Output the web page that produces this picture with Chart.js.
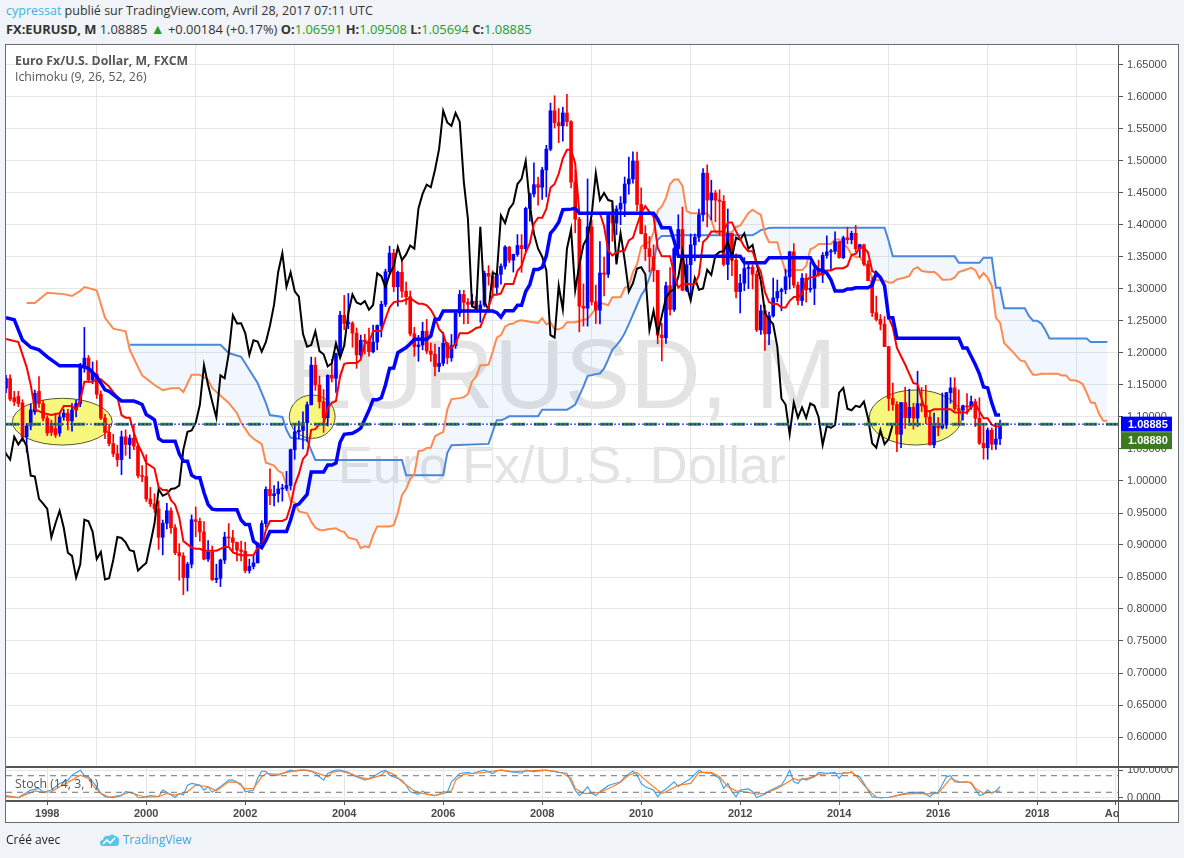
<!DOCTYPE html>
<html lang="fr">
<head>
<meta charset="UTF-8">
<title>FX:EURUSD, M - Ichimoku</title>
<script src="https://cdn.jsdelivr.net/npm/chart.js@4.4.1/dist/chart.umd.min.js"></script>
<style>
  html, body { margin: 0; padding: 0; }
  body { width: 1184px; height: 858px; background: #f0f3f7; font-family: "Open Sans", sans-serif; position: relative; overflow: hidden; }
  .hdr { position: absolute; left: 6px; font-size: 12.5px; line-height: 16px; color: #333; white-space: nowrap; }
  .hdr1 { top: 3px; }
  .hdr2 { top: 21px; font-size: 12.9px; }
  .tri { font-size: 14px; }
  .user { color: #3bb3e4; }
  .g { color: #1e9e28; }
  #frame { position: absolute; left: 5px; top: 44px; width: 1172px; height: 777px; border: 1px solid #6b6b6b; background: #fff; overflow: hidden; }
  .wm { position: absolute; left: 0; width: 1112px; text-align: center; color: #e3e3e3; font-family: "Liberation Sans", sans-serif; white-space: nowrap; }
  #wm1 { top: 280px; font-size: 98px; line-height: 98px; }
  #wm2 { top: 394px; font-size: 52px; line-height: 52px; }
  canvas { position: absolute; left: 0; }
  #main { top: 0; }
  #stoch { top: 722px; }
  .sep { position: absolute; left: 0; top: 721px; width: 1172px; height: 2px; background: #555; }
  .leg { position: absolute; left: 9px; font-size: 12.3px; line-height: 16px; color: #555; white-space: nowrap; }
  #leg1 { top: 8px; font-weight: bold; }
  #leg2 { top: 24px; }
  #leg3 { top: 731px; }
  .foot { position: absolute; top: 832px; font-size: 12px; line-height: 16px; white-space: nowrap; }
</style>
</head>
<body>
  <div class="hdr hdr1"><span class="user">cypressat</span> publié sur TradingView.com, Avril 28, 2017 07:11 UTC</div>
  <div class="hdr hdr2"><b>FX:EURUSD, M</b> 1.08885 <span class="g tri">&#9650;</span> +0.00184 (+0.17%) <b>O:</b><span class="g">1.06591</span> <b>H:</b><span class="g">1.09508</span> <b>L:</b><span class="g">1.05694</span> <b>C:</b><span class="g">1.08885</span></div>

  <div id="frame">
    <div class="wm" id="wm1">EURUSD, M</div>
    <div class="wm" id="wm2">Euro Fx/U.S. Dollar</div>
    <canvas id="main" width="1172" height="722"></canvas>
    <canvas id="stoch" width="1172" height="55"></canvas>
    <div class="sep"></div>
    <div class="leg" id="leg1">Euro Fx/U.S. Dollar, M, FXCM</div>
    <div class="leg" id="leg2">Ichimoku (9, 26, 52, 26)</div>
    <div class="leg" id="leg3">Stoch (14, 3, 1)</div>
  </div>

  <div class="foot" style="left:6px;color:#222;">Créé avec</div>
  <svg class="foot" style="left:100px;top:833px;" width="20" height="14" viewBox="0 0 20 14">
    <path d="M3 13 Q0 13 0 10 Q0 7 3 7 Q4 2 9 3 Q12 0 15 3 Q20 4 19 9 Q19 13 16 13 Z" fill="#5cc3ec"/>
    <path d="M3 11 L7 7 L10 10 L15 5" stroke="#fff" stroke-width="1.6" fill="none"/>
  </svg>
  <div class="foot" style="left:123px;color:#3aa8dc;">TradingView</div>

<script>
// monthly candles, FX:EURUSD (FXCM), months counted from Jan 1997 (0)
const firstCandleMonth = 2; // Mar 1997

const opens = [
  1.145,1.160,1.130,1.132,1.122,1.069,1.086,1.108,1.140,1.121,
  1.098,1.090,1.082,1.075,1.100,1.106,1.094,1.111,1.121,1.179,1.192,1.158,
  1.167,1.1355,1.0985,1.076,1.0585,1.0425,1.0335,1.069,1.057,1.067,1.0545,1.0085,
  1.007,0.972,0.9645,0.9565,0.912,0.934,0.9535,0.927,0.888,0.883,0.849,0.870,
  0.9395,0.937,0.9205,0.878,0.889,0.846,0.848,0.8765,0.9125,0.911,0.904,0.892,
  0.890,0.860,0.8665,0.872,0.902,0.9335,0.987,0.977,0.980,0.9875,0.9885,0.993,
  1.049,1.077,1.079,1.091,1.119,1.181,1.150,1.124,1.099,1.165,1.1605,1.199,
  1.259,1.246,1.2465,1.231,1.197,1.220,1.218,1.202,1.217,1.243,1.276,1.327,
  1.356,1.3035,1.326,1.2965,1.288,1.230,1.210,1.2125,1.234,1.203,1.198,1.179,
  1.184,1.215,1.1925,1.2115,1.2625,1.2915,1.279,1.276,1.281,1.2675,1.275,1.3245,
  1.320,1.3025,1.323,1.3355,1.3655,1.345,1.354,1.368,1.363,1.426,1.4485,1.463,
  1.459,1.486,1.5185,1.5785,1.560,1.555,1.575,1.5615,1.467,1.409,1.273,1.270,
  1.397,1.280,1.267,1.325,1.323,1.415,1.403,1.425,1.434,1.464,1.472,1.500,
  1.432,1.3865,1.363,1.3505,1.329,1.228,1.224,1.305,1.268,1.363,1.393,1.298,
  1.338,1.369,1.381,1.416,1.481,1.439,1.450,1.439,1.437,1.3385,1.387,1.345,
  1.296,1.309,1.332,1.334,1.323,1.236,1.266,1.230,1.258,1.286,1.296,1.299,
  1.319,1.358,1.306,1.282,1.317,1.299,1.301,1.330,1.322,1.3525,1.358,1.359,
  1.374,1.349,1.380,1.377,1.387,1.363,1.369,1.339,1.313,1.263,1.2525,1.245,
  1.210,1.129,1.1195,1.073,1.1225,1.099,1.115,1.0985,1.121,1.1175,1.100,1.0565,
  1.086,1.083,1.0875,1.138,1.1455,1.113,1.1105,1.1175,1.1155,1.124,1.098,1.059,
  1.052,1.0795,1.0575,1.06591
];
const highs = [
  1.165,1.166,1.140,1.140,1.127,1.090,1.120,1.142,1.163,1.126,
  1.102,1.095,1.106,1.106,1.112,1.112,1.121,1.126,1.184,1.240,1.196,1.186,
  1.188,1.141,1.104,1.089,1.073,1.056,1.078,1.080,1.072,1.088,1.056,1.024,
  1.041,0.990,0.980,0.969,0.939,0.965,0.958,0.932,0.902,0.888,0.873,0.947,
  0.9595,0.942,0.9365,0.907,0.8985,0.870,0.878,0.920,0.9335,0.923,0.9045,0.906,
  0.9045,0.878,0.8835,0.904,0.938,0.991,1.019,0.993,0.999,0.995,1.015,1.050,
  1.088,1.0935,1.108,1.1235,1.1935,1.193,1.164,1.143,1.166,1.190,1.200,1.265,
  1.290,1.293,1.249,1.239,1.228,1.229,1.239,1.2435,1.244,1.281,1.331,1.367,
  1.362,1.328,1.348,1.311,1.297,1.240,1.2275,1.248,1.2525,1.216,1.214,1.209,
  1.2325,1.2165,1.229,1.266,1.298,1.298,1.285,1.2915,1.288,1.2815,1.328,1.3365,
  1.3285,1.3275,1.3395,1.368,1.3665,1.3545,1.385,1.385,1.428,1.450,1.497,1.475,
  1.490,1.5245,1.5905,1.602,1.582,1.584,1.604,1.563,1.4865,1.412,1.308,1.472,
  1.408,1.306,1.374,1.350,1.416,1.434,1.430,1.4445,1.475,1.506,1.5145,1.514,
  1.458,1.399,1.382,1.369,1.329,1.2465,1.311,1.3335,1.365,1.416,1.428,1.350,
  1.386,1.386,1.425,1.488,1.494,1.470,1.454,1.455,1.446,1.425,1.387,1.355,
  1.323,1.349,1.3385,1.338,1.3285,1.275,1.275,1.264,1.317,1.314,1.3015,1.331,
  1.359,1.371,1.311,1.324,1.324,1.3415,1.3345,1.345,1.357,1.383,1.362,1.3895,
  1.374,1.3825,1.3965,1.3905,1.3995,1.370,1.370,1.3445,1.318,1.289,1.260,1.257,
  1.210,1.153,1.124,1.123,1.1465,1.1435,1.1215,1.1715,1.146,1.1495,1.1095,1.106,
  1.099,1.1375,1.1385,1.1615,1.1615,1.1425,1.1185,1.1365,1.1325,1.128,1.130,1.0875,
  1.083,1.083,1.0905,1.09508
];
const lows = [
  1.138,1.125,1.118,1.116,1.062,1.045,1.080,1.104,1.115,1.094,
  1.071,1.071,1.068,1.070,1.095,1.080,1.078,1.100,1.116,1.170,1.154,1.152,
  1.129,1.096,1.066,1.055,1.038,1.023,1.010,1.040,1.035,1.049,1.005,0.999,
  0.968,0.960,0.951,0.893,0.8845,0.925,0.918,0.885,0.845,0.8225,0.828,0.864,
  0.913,0.906,0.8765,0.8745,0.8445,0.841,0.835,0.871,0.8985,0.8905,0.875,0.875,
  0.8565,0.856,0.8625,0.872,0.900,0.928,0.963,0.961,0.967,0.9685,0.985,0.986,
  1.034,1.066,1.050,1.062,1.119,1.1415,1.114,1.076,1.086,1.155,1.1385,1.193,
  1.2365,1.238,1.209,1.176,1.1905,1.1985,1.195,1.200,1.205,1.225,1.2725,1.3225,
  1.296,1.273,1.287,1.276,1.2265,1.195,1.187,1.205,1.199,1.187,1.164,1.171,
  1.180,1.183,1.187,1.207,1.257,1.2455,1.246,1.2725,1.264,1.248,1.272,1.306,
  1.2865,1.293,1.3075,1.331,1.341,1.3265,1.351,1.326,1.358,1.406,1.444,1.431,
  1.440,1.444,1.516,1.5515,1.5285,1.531,1.5545,1.458,1.388,1.233,1.242,1.242,
  1.275,1.246,1.2455,1.289,1.318,1.3745,1.385,1.4005,1.413,1.448,1.4655,1.422,
  1.386,1.3445,1.3265,1.3115,1.2145,1.1875,1.215,1.259,1.265,1.352,1.297,1.296,
  1.286,1.344,1.374,1.406,1.397,1.408,1.405,1.3835,1.336,1.3145,1.321,1.286,
  1.2625,1.2975,1.3005,1.300,1.2335,1.229,1.204,1.213,1.256,1.280,1.266,1.2925,
  1.300,1.302,1.275,1.2745,1.2795,1.295,1.2755,1.320,1.310,1.348,1.3295,1.355,
  1.348,1.3475,1.3705,1.3705,1.3585,1.350,1.3365,1.313,1.257,1.250,1.236,1.210,
  1.110,1.1105,1.046,1.052,1.082,1.0865,1.081,1.085,1.1085,1.0895,1.056,1.052,
  1.071,1.081,1.082,1.1215,1.110,1.091,1.095,1.1045,1.112,1.085,1.057,1.034,
  1.034,1.049,1.0495,1.05694
];
const closes = [
  1.160,1.128,1.124,1.121,1.069,1.086,1.111,1.137,1.121,1.098,
  1.075,1.076,1.072,1.100,1.106,1.094,1.111,1.121,1.179,1.192,1.158,1.168,
  1.1355,1.0985,1.076,1.0585,1.0425,1.0335,1.069,1.057,1.067,1.0545,1.0085,1.007,
  0.972,0.9645,0.9565,0.912,0.934,0.9535,0.927,0.888,0.883,0.849,0.870,0.9395,
  0.937,0.9205,0.878,0.889,0.846,0.848,0.8765,0.9125,0.911,0.904,0.892,0.890,
  0.860,0.8665,0.872,0.902,0.9335,0.987,0.977,0.980,0.9875,0.9885,0.993,1.049,
  1.077,1.079,1.091,1.119,1.181,1.150,1.124,1.099,1.165,1.1605,1.199,1.259,
  1.246,1.2465,1.231,1.197,1.220,1.218,1.202,1.217,1.243,1.276,1.327,1.356,
  1.3035,1.326,1.2965,1.288,1.230,1.210,1.2125,1.234,1.203,1.198,1.179,1.184,
  1.215,1.1925,1.2115,1.2625,1.2915,1.279,1.276,1.281,1.2675,1.275,1.3245,1.320,
  1.3025,1.323,1.3355,1.3655,1.345,1.354,1.368,1.363,1.426,1.4485,1.463,1.459,
  1.486,1.5185,1.5785,1.560,1.555,1.575,1.5615,1.467,1.409,1.273,1.270,1.397,
  1.280,1.267,1.325,1.323,1.415,1.403,1.425,1.434,1.464,1.472,1.500,1.432,
  1.3865,1.363,1.3505,1.329,1.228,1.224,1.305,1.268,1.363,1.393,1.298,1.338,
  1.369,1.381,1.416,1.481,1.439,1.450,1.439,1.437,1.3385,1.387,1.345,1.296,
  1.309,1.332,1.334,1.323,1.236,1.266,1.230,1.258,1.286,1.296,1.299,1.319,
  1.358,1.306,1.282,1.317,1.299,1.301,1.330,1.322,1.3525,1.358,1.359,1.374,
  1.349,1.380,1.377,1.387,1.363,1.369,1.339,1.313,1.263,1.2525,1.245,1.210,
  1.129,1.1195,1.073,1.1225,1.099,1.115,1.0985,1.121,1.1175,1.100,1.0565,1.086,
  1.083,1.0875,1.138,1.1455,1.113,1.1105,1.1175,1.1155,1.124,1.098,1.059,1.052,
  1.0795,1.0575,1.0655,1.08885
];

// Ichimoku (9, 26, 52, 26) lines: [month, price]
const tenkanSen = [
  [2,1.222],[5,1.217],[7,1.178],[8,1.150],[9,1.112],[11,1.106],[13,1.103],[15,1.106],[16,1.117],[18,1.117],
  [19,1.111],[20,1.126],[21,1.155],[23,1.155],[24,1.159],[25,1.159],[26,1.153],[27,1.1475],[28,1.139],[29,1.1315],
  [30,1.103],[31,1.099],[32,1.099],[33,1.0755],[34,1.057],[35,1.044],[36,1.028],[37,1.024],[38,1.0195],[39,0.9905],
  [40,0.986],[41,0.986],[42,0.970],[43,0.963],[44,0.943],[45,0.906],[46,0.901],[47,0.896],[48,0.894],[49,0.894],
  [50,0.891],[53,0.891],[54,0.894],[55,0.897],[56,0.897],[57,0.8885],[58,0.886],[59,0.884],[62,0.884],[63,0.895],
  [64,0.897],[65,0.9235],[66,0.9375],[69,0.9375],[70,0.941],[71,0.961],[72,0.994],[73,1.011],[74,1.0345],[75,1.042],
  [76,1.080],[77,1.081],[78,1.089],[79,1.090],[80,1.114],[81,1.122],[82,1.125],[83,1.1635],[84,1.183],[85,1.1845],
  [87,1.1845],[88,1.1895],[89,1.216],[90,1.216],[91,1.2345],[93,1.2345],[94,1.2535],[95,1.2715],[96,1.279],[97,1.281],
  [98,1.281],[99,1.2835],[100,1.286],[101,1.281],[102,1.277],[103,1.277],[104,1.2745],[105,1.2675],[106,1.256],[107,1.2375],
  [108,1.2305],[109,1.208],[110,1.208],[111,1.215],[112,1.231],[114,1.231],[115,1.2345],[116,1.239],[117,1.2405],[118,1.2575],
  [119,1.272],[120,1.291],[121,1.291],[122,1.293],[123,1.308],[125,1.308],[126,1.3285],[127,1.336],[128,1.357],[129,1.3715],
  [130,1.402],[131,1.4115],[132,1.4115],[133,1.425],[134,1.458],[135,1.464],[136,1.48],[137,1.504],[138,1.5175],[139,1.5175],
  [140,1.496],[141,1.4185],[146,1.4185],[147,1.398],[148,1.36],[149,1.3525],[150,1.357],[151,1.359],[152,1.36],[153,1.376],
  [154,1.38],[155,1.40],[156,1.419],[157,1.4295],[158,1.4205],[159,1.413],[160,1.3645],[161,1.351],[163,1.351],[164,1.323],
  [165,1.302],[166,1.308],[169,1.308],[170,1.3215],[171,1.3735],[172,1.3795],[173,1.39],[176,1.39],[177,1.404],[178,1.404],
  [179,1.39],[180,1.378],[181,1.366],[182,1.359],[183,1.359],[184,1.34],[185,1.327],[186,1.2955],[187,1.2795],[188,1.2765],
  [189,1.2765],[190,1.271],[191,1.271],[192,1.2815],[193,1.2875],[194,1.2875],[195,1.292],[196,1.3135],[197,1.3185],[198,1.3185],
  [199,1.323],[200,1.323],[201,1.329],[202,1.329],[203,1.332],[204,1.3325],[205,1.3325],[206,1.336],[207,1.353],[208,1.355],
  [209,1.3645],[210,1.3645],[211,1.357],[212,1.328],[213,1.325],[214,1.318],[215,1.305],[216,1.255],[217,1.24],[218,1.208],
  [219,1.195],[220,1.182],[221,1.1675],[222,1.153],[223,1.1515],[224,1.128],[225,1.109],[226,1.109],[227,1.112],[231,1.112],
  [232,1.107],[235,1.107],[236,1.116],[237,1.121],[238,1.109],[239,1.098],[240,1.098],[241,1.088],[242,1.085],[243,1.085]
];
const kijunSen = [
  [2,1.255],[4,1.252],[6,1.220],[8,1.209],[10,1.205],[12,1.194],[15,1.180],[20,1.180],[22,1.176],[24,1.163],
  [26,1.1425],[27,1.140],[30,1.125],[33,1.125],[34,1.1225],[35,1.1195],[36,1.104],[37,1.100],[38,1.0955],[39,1.0665],
  [40,1.062],[43,1.062],[44,1.0425],[45,1.031],[46,1.031],[47,1.009],[48,1.005],[49,1.005],[50,0.982],[51,0.963],
  [52,0.956],[53,0.955],[58,0.955],[59,0.939],[60,0.932],[61,0.932],[62,0.906],[63,0.901],[64,0.896],[65,0.907],
  [66,0.921],[70,0.921],[71,0.939],[72,0.9615],[73,0.964],[74,0.9715],[75,0.979],[76,1.014],[79,1.014],[80,1.025],
  [81,1.025],[82,1.028],[83,1.0605],[84,1.073],[86,1.0745],[87,1.078],[88,1.0825],[89,1.0965],[90,1.1105],[91,1.127],
  [92,1.127],[93,1.130],[94,1.150],[95,1.176],[96,1.1765],[97,1.2005],[99,1.2085],[100,1.2145],[101,1.2215],[104,1.2215],
  [105,1.2265],[106,1.2528],[107,1.2528],[108,1.2655],[120,1.2655],[121,1.263],[122,1.256],[123,1.266],[125,1.266],[126,1.2745],
  [127,1.2745],[128,1.296],[129,1.307],[130,1.3305],[131,1.3305],[132,1.334],[133,1.352],[134,1.387],[135,1.3945],[136,1.4045],
  [137,1.4238],[139,1.4248],[140,1.426],[141,1.4185],[159,1.4185],[160,1.409],[161,1.3958],[163,1.3958],[164,1.375],[165,1.351],
  [180,1.351],[181,1.341],[186,1.341],[187,1.349],[197,1.349],[198,1.337],[199,1.3295],[200,1.3295],[201,1.325],[202,1.3145],
  [203,1.297],[205,1.297],[206,1.300],[207,1.300],[208,1.302],[211,1.302],[212,1.306],[213,1.325],[214,1.318],[215,1.305],
  [216,1.255],[217,1.255],[218,1.223],[233,1.223],[234,1.208],[235,1.208],[236,1.195],[237,1.182],[238,1.1675],[239,1.147],
  [240,1.1455],[241,1.122],[242,1.103],[243,1.103]
];
const senkouSpanA = [
  [7,1.278],[9,1.278],[12,1.294],[16,1.292],[18,1.289],[20,1.297],[21,1.303],[24,1.298],[26,1.255],[28,1.238],
  [31,1.234],[32,1.205],[34,1.178],[35,1.165],[38,1.150],[40,1.142],[42,1.145],[44,1.145],[45,1.139],[47,1.166],
  [49,1.166],[51,1.158],[52,1.145],[56,1.122],[58,1.106],[59,1.091],[61,1.072],[62,1.066],[63,1.062],[64,1.0575],
  [65,1.0285],[67,1.024],[68,1.016],[69,1.0125],[70,0.993],[71,0.9685],[72,0.966],[73,0.9525],[75,0.9495],[76,0.9365],
  [77,0.927],[78,0.9235],[79,0.923],[80,0.9245],[82,0.926],[83,0.922],[84,0.9205],[85,0.9115],[87,0.908],[88,0.895],
  [89,0.898],[90,0.8965],[91,0.915],[92,0.929],[95,0.929],[96,0.931],[97,0.950],[98,0.978],[99,0.9875],[100,1.003],
  [101,1.0105],[102,1.047],[103,1.0475],[104,1.0515],[105,1.052],[106,1.0695],[107,1.0735],[108,1.0765],[109,1.112],[110,1.128],
  [112,1.1295],[113,1.131],[114,1.136],[115,1.156],[116,1.163],[117,1.181],[118,1.181],[119,1.182],[120,1.202],[121,1.224],
  [122,1.228],[123,1.241],[124,1.245],[125,1.246],[126,1.250],[127,1.251],[129,1.249],[130,1.248],[131,1.247],[132,1.2544],
  [133,1.245],[134,1.248],[135,1.237],[136,1.237],[137,1.240],[138,1.248],[140,1.248],[141,1.250],[142,1.252],[143,1.253],
  [144,1.2615],[145,1.269],[146,1.278],[147,1.277],[148,1.2745],[149,1.287],[151,1.287],[152,1.3015],[153,1.305],[154,1.3265],
  [155,1.339],[156,1.366],[157,1.371],[158,1.373],[159,1.3885],[160,1.4225],[161,1.429],[162,1.442],[163,1.464],[164,1.471],
  [165,1.471],[166,1.461],[167,1.422],[168,1.4185],[172,1.4185],[173,1.408],[174,1.389],[175,1.3855],[176,1.388],[178,1.389],
  [179,1.397],[180,1.399],[181,1.409],[182,1.419],[183,1.424],[184,1.4195],[185,1.416],[186,1.387],[187,1.373],[189,1.373],
  [190,1.349],[191,1.3265],[192,1.3295],[195,1.3295],[196,1.336],[197,1.362],[198,1.365],[199,1.3705],[202,1.3705],[203,1.3775],
  [204,1.3775],[205,1.3705],[206,1.3645],[207,1.3535],[208,1.350],[209,1.350],[210,1.3405],[211,1.334],[212,1.318],[213,1.314],
  [215,1.313],[216,1.310],[217,1.310],[218,1.315],[220,1.318],[221,1.3205],[222,1.331],[223,1.334],[224,1.328],[226,1.326],
  [227,1.327],[228,1.322],[229,1.3145],[231,1.315],[232,1.318],[233,1.3265],[234,1.3285],[236,1.333],[237,1.3295],[238,1.317],
  [239,1.325],[240,1.318],[241,1.305],[242,1.255],[243,1.2475],[244,1.2155],[245,1.209],[246,1.2025],[247,1.195],[248,1.188],
  [249,1.187],[250,1.1755],[251,1.166],[252,1.166],[253,1.1675],[257,1.1675],[258,1.165],[259,1.165],[260,1.1575],[261,1.1575],
  [262,1.1555],[263,1.1515],[264,1.138],[265,1.1225],[266,1.122],[267,1.105],[268,1.094],[269,1.094]
];
const senkouSpanB = [
  [32,1.213],[54,1.213],[56,1.200],[59,1.194],[63,1.153],[65,1.122],[66,1.103],[69,1.100],[70,1.080],[71,1.068],
  [75,1.064],[76,1.048],[77,1.033],[98,1.033],[99,1.009],[108,1.009],[109,1.044],[110,1.056],[119,1.058],[120,1.077],
  [121,1.095],[122,1.095],[123,1.0975],[124,1.101],[131,1.101],[132,1.1115],[138,1.1115],[139,1.115],[140,1.1195],[141,1.1335],
  [142,1.1475],[143,1.164],[145,1.167],[146,1.168],[147,1.176],[148,1.19],[149,1.205],[150,1.212],[151,1.22],[152,1.231],
  [153,1.245],[154,1.26],[155,1.275],[156,1.29],[157,1.30],[158,1.318],[159,1.34],[160,1.377],[161,1.383],[163,1.383],
  [164,1.384],[183,1.384],[184,1.3875],[185,1.392],[186,1.3935],[187,1.3955],[188,1.3958],[215,1.3958],[216,1.375],[217,1.351],
  [232,1.351],[233,1.341],[238,1.341],[239,1.349],[241,1.349],[242,1.302],[243,1.302],[244,1.270],[249,1.270],[250,1.258],
  [251,1.2505],[252,1.2505],[253,1.246],[254,1.2355],[255,1.2228],[264,1.2228],[265,1.217],[269,1.217]
];
const chikouShift = 26;

// Stoch (14, 3, 1): [month, value]
const stochK = [
  [2,4],[5,1],[8,28],[10,34],[11,20],[13,28],[15,52],[17,64],[18,82],[20,100],[21,80],[22,76],[23,58],[24,40],[25,16],
  [26,4],[28,1],[30,8],[31,22],[33,16],[34,2],[35,1],[37,8],[39,4],[40,28],[41,20],[43,1],[44,16],[45,10],[46,46],
  [47,52],[49,46],[50,28],[51,40],[52,20],[54,40],[56,64],[57,64],[59,49],[60,22],[62,28],[63,70],[64,97],[65,95],[66,82],
  [68,82],[69,88],[71,100],[72,97],[74,100],[76,97],[77,88],[79,64],[80,88],[81,95],[82,100],[83,100],[85,92],[86,82],[88,70],
  [89,64],[91,76],[93,95],[94,100],[95,82],[97,70],[98,64],[99,46],[100,22],[102,13],[103,25],[104,13],[106,8],[107,13],[108,22],
  [109,20],[110,58],[112,88],[114,92],[115,88],[117,97],[118,100],[120,88],[121,97],[122,100],[124,95],[127,89],[128,100],[130,95],[131,97],
  [133,100],[135,95],[136,92],[138,89],[139,58],[140,28],[141,8],[142,22],[143,40],[144,16],[145,8],[146,22],[148,44],[149,49],[151,58],
  [152,76],[154,97],[155,82],[156,52],[157,40],[159,28],[160,4],[161,22],[162,32],[164,58],[165,40],[166,52],[168,70],[170,100],[171,92],
  [172,89],[173,89],[175,70],[176,34],[177,52],[178,22],[179,4],[180,28],[182,32],[183,22],[184,1],[186,13],[187,25],[188,32],[190,46],
  [191,70],[192,100],[193,58],[194,52],[195,70],[196,64],[198,76],[199,92],[201,89],[203,92],[204,70],[205,92],[206,89],[207,95],[208,80],
  [209,76],[211,28],[212,4],[214,0],[216,2],[217,4],[219,13],[220,16],[222,20],[224,20],[225,13],[226,4],[227,16],[228,20],[230,76],
  [231,80],[232,58],[233,56],[235,58],[236,52],[238,8],[239,13],[240,28],[241,16],[242,25],[243,40]
];
const stochD = [
  [2,8],[5,1],[9,25],[11,20],[13,22],[15,40],[18,64],[20,82],[22,70],[23,46],[25,16],[27,2],[30,10],[32,20],[34,10],
  [36,2],[39,4],[41,16],[43,10],[46,22],[48,46],[51,40],[53,25],[56,58],[58,56],[60,32],[62,34],[64,76],[65,88],[68,85],
  [70,92],[73,100],[75,100],[77,92],[80,76],[81,92],[83,97],[86,85],[88,73],[90,68],[93,82],[94,97],[96,85],[98,58],[101,25],
  [103,16],[106,8],[108,16],[110,25],[111,64],[113,85],[115,88],[118,92],[120,97],[122,100],[125,95],[128,97],[132,100],[135,97],[137,89],
  [139,70],[140,34],[142,16],[144,16],[146,20],[149,40],[151,56],[153,82],[155,92],[157,64],[159,40],[161,16],[162,22],[165,46],[168,52],
  [170,92],[173,92],[175,76],[177,40],[179,25],[181,22],[184,13],[186,16],[189,34],[191,52],[193,70],[194,64],[197,73],[199,85],[202,88],
  [204,88],[207,92],[208,82],[210,46],[212,16],[213,2],[216,1],[218,8],[220,13],[223,16],[225,14],[228,16],[230,52],[231,70],[233,58],
  [236,56],[237,34],[239,16],[241,20],[243,25]
];
const stochBands = [80, 20];

const lastPrice = 1.08885;
const hLineLevel = 1.08880;

const yearTickMonths = [12, 36, 60, 84, 108, 132, 156, 180, 204, 228, 252, 271];
const yearTickLabels = ['1998', '2000', '2002', '2004', '2006', '2008', '2010', '2012', '2014', '2016', '2018', 'Aoû'];
const priceTicks = [0.60, 0.65, 0.70, 0.75, 0.80, 0.85, 0.90, 0.95, 1.00, 1.05, 1.10, 1.15,
                    1.20, 1.25, 1.30, 1.35, 1.40, 1.45, 1.50, 1.55, 1.60, 1.65];
const stochTicks = [0, 100];

// yellow ellipses drawn on the chart (centre and half-size in month / price units)
const highlightZones = [
  { month: 15.65, price: 1.0927, halfMonths: 12.1, halfPrice: 0.0365 },
  { month: 76.24, price: 1.1005, halfMonths: 5.55, halfPrice: 0.0339 },
  { month: 222.5, price: 1.0992, halfMonths: 11.2, halfPrice: 0.043 }
];

// ---- chart ----
const xMin = 2, xMax = 271.6;
const gridColor = '#e6e6e6';
const axisColor = '#555';
const labelFont = { family: '"Liberation Sans", Arial, sans-serif', size: 11 };
const upColor = '#0000ff', downColor = '#ff0000';
const cloudColor = 'rgba(90, 140, 235, 0.08)';

const toPoints = pairs => pairs.map(([x, y]) => ({ x, y }));
const candleMonths = closes.map((c, i) => firstCandleMonth + i);
const candleColors = closes.map((c, i) => (c >= opens[i] ? upColor : downColor));
const bodies = candleMonths.map((m, i) => ({ x: m, y: [opens[i], closes[i]] }));
const wicks = candleMonths.map((m, i) => ({ x: m, y: [lows[i], highs[i]] }));
const chikou = candleMonths.map((m, i) => ({ x: m - chikouShift, y: closes[i] }));
const hLine = level => [{ x: xMin, y: level }, { x: xMax, y: level }];

const yearTicks = scale => { scale.ticks = yearTickMonths.map(v => ({ value: v })); };
// keep the plot area flush with the canvas edges
const noPad = s => { s.paddingTop = 0; s.paddingBottom = 0; s.paddingLeft = 0; s.paddingRight = 0; };

const zonesPlugin = {
  id: 'zones',
  beforeDatasetsDraw(chart) {
    const { ctx, chartArea, scales } = chart;
    ctx.save();
    ctx.beginPath();
    ctx.rect(chartArea.left, chartArea.top, chartArea.width, chartArea.height);
    ctx.clip();
    highlightZones.forEach(z => {
      const cx = scales.x.getPixelForValue(z.month);
      const cy = scales.y.getPixelForValue(z.price);
      const rx = Math.abs(scales.x.getPixelForValue(z.month + z.halfMonths) - cx);
      const ry = Math.abs(scales.y.getPixelForValue(z.price + z.halfPrice) - cy);
      ctx.beginPath();
      ctx.ellipse(cx, cy, rx, ry, 0, 0, Math.PI * 2);
      ctx.fillStyle = '#f7f77e';
      ctx.fill();
      ctx.lineWidth = 1;
      ctx.strokeStyle = '#55552e';
      ctx.stroke();
    });
    ctx.restore();
  }
};

const priceTagPlugin = {
  id: 'priceTags',
  afterDraw(chart) {
    const { ctx, chartArea, scales } = chart;
    const left = chartArea.right + 3;
    const yBlue = scales.y.getPixelForValue(lastPrice);
    const yGreen = Math.max(scales.y.getPixelForValue(hLineLevel), yBlue + 16);
    ctx.save();
    ctx.font = 'bold 11px "Liberation Sans", Arial, sans-serif';
    ctx.textBaseline = 'middle';
    ctx.fillStyle = '#0000ff';
    ctx.fillRect(left, yBlue - 7.5, 51, 15);
    ctx.fillStyle = '#3b7a1f';
    ctx.fillRect(left, yGreen - 8, 51, 17);
    ctx.fillStyle = '#ffffff';
    ctx.fillText(lastPrice.toFixed(5), left + 7, yBlue + 0.5);
    ctx.fillText(hLineLevel.toFixed(5), left + 7, yGreen + 0.5);
    ctx.restore();
  }
};

new Chart(document.getElementById('main'), {
  type: 'line',
  data: {
    datasets: [
      { data: toPoints(senkouSpanB), borderColor: '#4a88dc', borderWidth: 2, pointRadius: 0,
        fill: { target: '+1', above: cloudColor, below: cloudColor }, order: 9 },
      { data: toPoints(senkouSpanA), borderColor: '#ff8a50', borderWidth: 2, pointRadius: 0, fill: false, order: 8 },
      { type: 'bar', data: wicks, backgroundColor: candleColors, barThickness: 1, grouped: false, order: 7 },
      { type: 'bar', data: bodies, backgroundColor: candleColors, barThickness: 3, minBarLength: 1, grouped: false, order: 6 },
      { data: chikou, borderColor: '#000000', borderWidth: 2, pointRadius: 0, fill: false, order: 5 },
      { data: toPoints(tenkanSen), borderColor: '#ff0000', borderWidth: 2, pointRadius: 0, fill: false, order: 4 },
      { data: toPoints(kijunSen), borderColor: '#0000ff', borderWidth: 3.5, pointRadius: 0, fill: false, order: 3 },
      { data: hLine(hLineLevel), borderColor: '#3d8b2f', borderWidth: 3, borderDash: [13, 9], pointRadius: 0, fill: false, order: 2 },
      { data: hLine(lastPrice), borderColor: '#0000ff', borderWidth: 1, borderDash: [2, 2], pointRadius: 0, fill: false, order: 1 }
    ]
  },
  options: {
    responsive: false,
    animation: false,
    events: [],
    layout: { padding: 0 },
    plugins: { legend: { display: false }, tooltip: { enabled: false } },
    scales: {
      x: {
        type: 'linear', min: xMin, max: xMax, offset: false,
        afterBuildTicks: yearTicks,
        ticks: { display: false },
        grid: { color: gridColor, drawTicks: false },
        border: { display: false },
        afterFit: s => { s.height = 0; noPad(s); }
      },
      y: {
        position: 'right', min: 0.553125, max: 1.68125,
        afterBuildTicks: s => { s.ticks = priceTicks.map(v => ({ value: v })); },
        ticks: { callback: v => Number(v).toFixed(5), color: '#4a4a4a', font: labelFont, padding: 4 },
        grid: { color: gridColor, tickColor: axisColor, tickLength: 5 },
        border: { color: axisColor, width: 1 },
        afterFit: s => { s.width = 60; noPad(s); }
      }
    }
  },
  plugins: [zonesPlugin, priceTagPlugin]
});

const axisCornerPlugin = {
  id: 'axisCorner',
  afterDraw(chart) {
    const { ctx, chartArea, width, height } = chart;
    ctx.save();
    ctx.fillStyle = '#ffffff';
    ctx.fillRect(chartArea.right + 1, chartArea.bottom + 1, width - chartArea.right, height - chartArea.bottom);
    ctx.strokeStyle = axisColor;
    ctx.lineWidth = 1;
    ctx.beginPath();
    ctx.moveTo(chartArea.right + 0.5, chartArea.top);
    ctx.lineTo(chartArea.right + 0.5, height);
    ctx.stroke();
    ctx.fillStyle = axisColor;
    ctx.fillRect(chartArea.right, chartArea.bottom - 1, width - chartArea.right, 2);
    ctx.restore();
  }
};

new Chart(document.getElementById('stoch'), {
  type: 'line',
  data: {
    datasets: [
      { data: hLine(stochBands[0]), borderColor: '#707070', borderWidth: 1, borderDash: [6, 5], pointRadius: 0 },
      { data: hLine(stochBands[1]), borderColor: '#707070', borderWidth: 1, borderDash: [6, 5], pointRadius: 0 },
      { data: toPoints(stochD), borderColor: '#ff7f27', borderWidth: 1.2, pointRadius: 0 },
      { data: toPoints(stochK), borderColor: '#3fa3f0', borderWidth: 1.2, pointRadius: 0 }
    ]
  },
  options: {
    responsive: false,
    animation: false,
    events: [],
    layout: { padding: 0 },
    plugins: { legend: { display: false }, tooltip: { enabled: false } },
    scales: {
      x: {
        type: 'linear', min: xMin, max: xMax, offset: false,
        afterBuildTicks: yearTicks,
        ticks: {
          callback: v => yearTickLabels[yearTickMonths.indexOf(v)],
          color: '#4a4a4a', font: { ...labelFont, weight: 'bold' }, padding: 2, maxRotation: 0, autoSkip: false
        },
        grid: { color: gridColor, tickColor: axisColor, tickLength: 4 },
        border: { color: axisColor, width: 2 },
        afterFit: s => { s.height = 21; noPad(s); }
      },
      y: {
        position: 'right', min: -11.6, max: 111.6,
        afterBuildTicks: s => { s.ticks = stochTicks.map(v => ({ value: v })); },
        ticks: { callback: v => Number(v).toFixed(4), color: '#4a4a4a', font: labelFont, padding: 4 },
        grid: { color: gridColor, tickColor: axisColor, tickLength: 5 },
        border: { color: axisColor, width: 1 },
        afterFit: s => { s.width = 60; noPad(s); }
      }
    }
  },
  plugins: [axisCornerPlugin]
});
</script>
</body>
</html>
